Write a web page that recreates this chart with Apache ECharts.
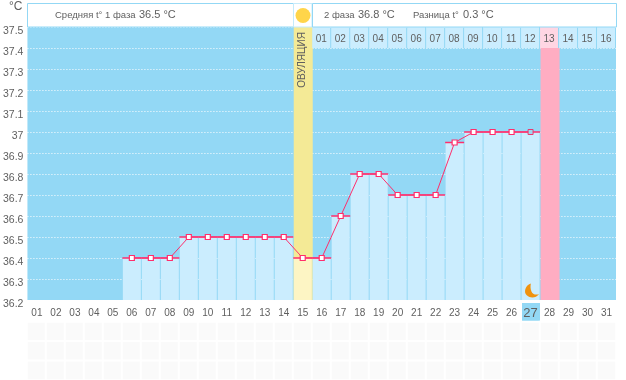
<!DOCTYPE html>
<html><head><meta charset="utf-8">
<style>html,body{margin:0;padding:0;background:#fff}#c{width:626px;height:380px}</style>
<script src="https://cdn.jsdelivr.net/npm/echarts@6/dist/echarts.min.js"></script>
</head><body><div id="c"></div>
<script>
const days = ['01','02','03','04','05','06','07','08','09','10','11','12','13','14','15','16','17','18','19','20','21','22','23','24','25','26','27','28','29','30','31'];
const temps = [null,null,null,null,null,36.4,36.4,36.4,36.5,36.5,36.5,36.5,36.5,36.5,36.4,36.4,36.6,36.8,36.8,36.7,36.7,36.7,36.95,37,37,37,37,null,null,null,null];
const cycle2Labels = ['01','02','03','04','05','06','07','08','09','10','11','12','13','14','15','16'];
const cycle2Start = 15;
const ovulationIndex = 14;
const periodIndex = 27;
const todayIndex = 26;
const rows = ['a','b','c'];
const yMin = 36.2, yMax = 37.5;
const FONT = '"Liberation Sans"';
const TXT = '#5f5f5f', BG = '#93d8f5', CELL = '#cbedfe', PINK = '#ff2e6c';

const chart = echarts.init(document.getElementById('c'), null, {renderer:'canvas'});
const heat = [];
days.forEach((d,i)=>rows.forEach((r,j)=>heat.push([i,j,1])));

const option = {
  animation:false,
  textStyle:{fontFamily:FONT},
  grid:[
    {left:27,top:27,width:589,height:273,backgroundColor:BG,show:true,borderWidth:0},
    {left:27,top:322,width:589,height:60,show:false}
  ],
  xAxis:[
    {type:'category',gridIndex:0,data:days,boundaryGap:true,
     axisLine:{show:false},axisTick:{show:false},splitLine:{show:false},
     axisLabel:{interval:0,color:TXT,fontSize:10,fontFamily:FONT,margin:8,
       formatter:v=>v==days[todayIndex]?'{t|'+v+'}':v,
       rich:{t:{fontSize:13,color:TXT,fontFamily:FONT,lineHeight:10}}}},
    {type:'category',gridIndex:1,data:days,axisLine:{show:false},axisTick:{show:false},axisLabel:{show:false},splitLine:{show:false}}
  ],
  yAxis:[
    {type:'value',gridIndex:0,min:yMin,max:yMax,interval:0.1,
     axisLine:{show:false},axisTick:{show:false},
     splitLine:{show:true,lineStyle:{color:'#fff',width:1,type:[1,2]}},
     axisLabel:{color:TXT,fontSize:10.5,fontFamily:FONT,margin:4,verticalAlign:'top',lineHeight:9,
       formatter:v=>String(+v.toFixed(1))}},
    {type:'category',gridIndex:1,data:rows,inverse:true,axisLine:{show:false},axisTick:{show:false},axisLabel:{show:false},splitLine:{show:false}}
  ],
  graphic:[
    {type:'rect',shape:{x:27.5,y:3.5,width:266,height:23.5},style:{fill:'#fff',stroke:BG,lineWidth:1},z:5},
    {type:'rect',shape:{x:293.5,y:3.5,width:18.5,height:23.5},style:{fill:'#fff',stroke:'#c5ebfb',lineWidth:1},z:5},
    {type:'rect',shape:{x:312.5,y:3.5,width:304,height:23.5},style:{fill:'#fff',stroke:BG,lineWidth:1},z:5},
    {type:'circle',shape:{cx:303,cy:15.5,r:7.5},style:{fill:'#ffd54a'},z:6},
    {type:'text',x:9,y:1,style:{text:'°C',fontSize:12,fill:TXT,fontFamily:FONT},z:6},
    {type:'text',x:55,y:10,style:{text:'Средняя t° 1 фаза',fontSize:9.5,fill:TXT,fontFamily:FONT},z:6},
    {type:'text',x:139,y:9,style:{text:'36.5 °C',fontSize:11,fill:TXT,fontFamily:FONT},z:6},
    {type:'text',x:324,y:10,style:{text:'2 фаза',fontSize:9.5,fill:TXT,fontFamily:FONT},z:6},
    {type:'text',x:358,y:9,style:{text:'36.8 °C',fontSize:11,fill:TXT,fontFamily:FONT},z:6},
    {type:'text',x:413,y:10,style:{text:'Разница t°',fontSize:9.5,fill:TXT,fontFamily:FONT},z:6},
    {type:'text',x:463,y:9,style:{text:'0.3 °C',fontSize:11,fill:TXT,fontFamily:FONT},z:6},
    {type:'rect',shape:{x:522,y:303,width:18,height:20},style:{fill:BG},z:0}
  ],
  series:[
    {type:'bar',name:'phases',xAxisIndex:0,yAxisIndex:0,barGap:'-100%',barWidth:19,silent:true,z:2,
     data:days.map((d,i)=>i===ovulationIndex?{value:yMax,itemStyle:{color:'#f4ea96'}}:(i===periodIndex?{value:37.4,itemStyle:{color:'#ffadc2'}}:null))},
    {type:'bar',name:'temperature',xAxisIndex:0,yAxisIndex:0,barGap:'-100%',barWidth:18,silent:true,z:3,
     data:temps.map((t,i)=>t==null?null:{value:t,itemStyle:{color:i===ovulationIndex?'#fdf5c4':CELL}})},
    {type:'custom',name:'cycle2',xAxisIndex:0,yAxisIndex:0,z:4,silent:true,clip:false,
     data:cycle2Labels.map((l,i)=>[i+cycle2Start,yMax]),
     encode:{x:0,y:1},
     renderItem:(p,api)=>{
       const i=api.value(0),a=api.coord([i,yMax]),b=api.coord([i,yMax-0.1]),w=api.size([1,0])[0];
       return {type:'group',children:[
         {type:'rect',shape:{x:a[0]-w/2,y:a[1],width:w-1,height:b[1]-a[1]},style:{fill:i===periodIndex?'#ffd6e3':CELL}},
         {type:'text',x:a[0]-0.5,y:(a[1]+b[1])/2+1.5,style:{text:cycle2Labels[i-cycle2Start],fill:TXT,fontSize:10,fontFamily:FONT,align:'center',verticalAlign:'middle'}}
       ]};
     }},
    {type:'custom',name:'ovulationText',xAxisIndex:0,yAxisIndex:0,z:6,silent:true,clip:false,
     data:[[ovulationIndex,yMax]],encode:{x:0,y:1},
     renderItem:(p,api)=>{
       const c=api.coord([api.value(0),yMax]);
       return {type:'text',x:c[0],y:c[1]+33,rotation:Math.PI/2,style:{text:'ОВУЛЯЦИЯ',fill:TXT,fontSize:10,fontFamily:FONT,align:'center',verticalAlign:'middle'}};
     }},
    {type:'custom',name:'moon',xAxisIndex:0,yAxisIndex:0,z:6,silent:true,
     data:[[todayIndex,yMin]],encode:{x:0,y:1},
     renderItem:(p,api)=>{
       const c=api.coord([api.value(0),api.value(1)]);
       return {type:'path',shape:{pathData:'M6 0 C0 2 -1 9 2 11.5 C6 15 11 14 14 10.5 C10 11.5 7.5 10 6.5 7.5 C5.5 5 5.5 2.5 6 0 Z',layout:'cover',x:c[0]-5.5,y:c[1]-16.5,width:14,height:14},style:{fill:'#f0930f'}};
     }},
    {type:'custom',name:'segments',xAxisIndex:0,yAxisIndex:0,z:7,silent:true,
     data:temps.map((t,i)=>[i,t]).filter(d=>d[1]!=null),encode:{x:0,y:1},
     renderItem:(p,api)=>{
       const c=api.coord([api.value(0),api.value(1)]),w=api.size([1,0])[0];
       return {type:'line',shape:{x1:c[0]-w/2,y1:c[1],x2:c[0]+w/2,y2:c[1]},style:{stroke:PINK,lineWidth:1.5}};
     }},
    {type:'line',name:'curve',xAxisIndex:0,yAxisIndex:0,z:8,silent:true,connectNulls:false,
     data:temps.map((t,i)=>i===todayIndex?{value:t,itemStyle:{color:'#9fd6ee',borderColor:'#e8386f',borderWidth:1}}:t),
     symbol:'rect',symbolSize:5,showSymbol:true,showAllSymbols:true,
     lineStyle:{color:PINK,width:1},itemStyle:{color:'#fff',borderColor:PINK,borderWidth:1.2}},
    {type:'heatmap',name:'notes',xAxisIndex:1,yAxisIndex:1,z:1,silent:true,data:heat,
     itemStyle:{color:'#fafafa',borderColor:'#fff',borderWidth:2},label:{show:false}}
  ]
};
chart.setOption(option);
</script></body></html>
